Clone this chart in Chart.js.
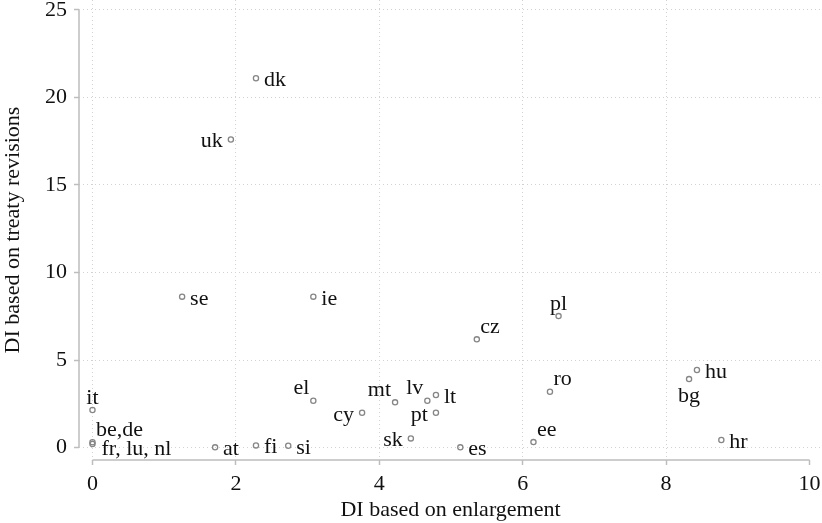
<!DOCTYPE html>
<html>
<head>
<meta charset="utf-8">
<script src="https://cdn.jsdelivr.net/npm/chart.js@4/dist/chart.umd.min.js"></script>
<style>
  html, body { margin: 0; padding: 0; background: #fff; }
  #wrap { position: relative; width: 822px; height: 523px; }
</style>
</head>
<body>
<div id="wrap"><canvas id="scatter-chart"></canvas></div>
<script>
// data
var countries   = ['it', 'be,de', 'fr, lu, nl', 'at', 'fi', 'si', 'se', 'uk', 'dk', 'ie',
                   'el', 'cy', 'mt', 'lv', 'lt', 'pt', 'sk', 'es', 'cz', 'pl',
                   'ro', 'ee', 'bg', 'hu', 'hr'];
var enlargement = [0, 0, 0, 1.71, 2.28, 2.73, 1.25, 1.93, 2.28, 3.08,
                   3.08, 3.76, 4.22, 4.67, 4.79, 4.79, 4.44, 5.13, 5.36, 6.50,
                   6.38, 6.15, 8.32, 8.43, 8.77];
var treaty      = [2.14, 0.30, 0.20, 0.01, 0.12, 0.10, 8.62, 17.6, 21.1, 8.62,
                   2.67, 1.99, 2.58, 2.67, 3.00, 1.99, 0.52, 0.01, 6.18, 7.51,
                   3.19, 0.31, 3.91, 4.43, 0.43];
var xTicks = [0, 2, 4, 6, 8, 10];
var yTicks = [0, 5, 10, 15, 20, 25];

// where each marker label sits (clock position, as in stata)
var labelPos = [12, 1, 4, 3, 3, 3, 3, 9, 3, 3,
                11, 9, 11, 11, 3, 9, 9, 3, 1, 12,
                1, 1, 6, 3, 3];

var FONT = "'Liberation Serif', 'Times New Roman', serif";
var AXIS_GREY = '#bdbdbd';
var GRID_GREY = '#d2d2d2';

var points = [];
for (var i = 0; i < countries.length; i++) {
	points.push({x: enlargement[i], y: treaty[i]});
}

function clockOffset(pos) {
	switch (pos) {
		case 9:  return {dx: -8, dy: 8, align: 'right'};
		case 12: return {dx: 0, dy: -6.5, align: 'center'};
		case 1:  return {dx: 3.5, dy: -6.5, align: 'left'};
		case 11: return {dx: -4, dy: -6.5, align: 'right'};
		case 6:  return {dx: 0, dy: 23, align: 'center'};
		case 4:  return {dx: 9, dy: 10.5, align: 'left'};
		default: return {dx: 8, dy: 8, align: 'left'};
	}
}

var markerLabels = {
	id: 'markerLabels',
	afterDatasetsDraw: function(chart) {
		var ctx = chart.ctx;
		var meta = chart.getDatasetMeta(0);
		ctx.save();
		ctx.font = '22px ' + FONT;
		ctx.fillStyle = '#111';
		ctx.textBaseline = 'alphabetic';
		meta.data.forEach(function(pt, i) {
			var o = clockOffset(labelPos[i]);
			ctx.textAlign = o.align;
			ctx.fillText(countries[i], pt.x + o.dx, pt.y + o.dy);
		});
		ctx.restore();
	}
};

// stata style axis lines: only across the tick range
var axisLines = {
	id: 'axisLines',
	afterDraw: function(chart) {
		var ctx = chart.ctx;
		var xs = chart.scales.x, ys = chart.scales.y;
		var area = chart.chartArea;
		ctx.save();
		ctx.strokeStyle = AXIS_GREY;
		ctx.lineWidth = 1.5;
		ctx.beginPath();
		ctx.moveTo(area.left, ys.getPixelForValue(yTicks[0]));
		ctx.lineTo(area.left, ys.getPixelForValue(yTicks[yTicks.length - 1]));
		ctx.moveTo(xs.getPixelForValue(xTicks[0]), area.bottom);
		ctx.lineTo(xs.getPixelForValue(xTicks[xTicks.length - 1]), area.bottom);
		ctx.stroke();
		ctx.restore();
	}
};

var ctx = document.getElementById('scatter-chart');
new Chart(ctx, {
	type: 'scatter',
	data: {
		datasets: [{
			data: points,
			pointStyle: 'circle',
			pointRadius: 2.6,
			pointHoverRadius: 2.6,
			pointBorderWidth: 1.3,
			pointBorderColor: '#868686',
			pointBackgroundColor: 'rgba(0,0,0,0)'
		}]
	},
	options: {
		responsive: true,
		maintainAspectRatio: false,
		animation: false,
		events: [],
		layout: { padding: 0, autoPadding: false },
		plugins: {
			legend: { display: false },
			tooltip: { enabled: false }
		},
		scales: {
			x: {
				type: 'linear',
				min: -0.188,
				max: 10.174,
				afterBuildTicks: function(scale) {
					scale.ticks = xTicks.map(function(v){ return {value: v}; });
				},
				afterFit: function(scale) {
					scale.height = 63;
					scale.paddingLeft = 0; scale.paddingRight = 0;
				},
				border: { display: false, dash: [1, 3] },
				grid: {
					color: function(c) { return (c.tick && c.tick.value === 10) ? 'rgba(0,0,0,0)' : GRID_GREY; },
					lineWidth: 1,
					drawTicks: true,
					tickLength: 5,
					tickColor: AXIS_GREY,
					tickWidth: 1.5,
					tickBorderDash: []
				},
				ticks: {
					color: '#111',
					padding: 6,
					maxRotation: 0,
					font: { family: FONT, size: 22 }
				},
				title: {
					display: true,
					text: 'DI based on enlargement',
					color: '#111',
					padding: { top: 0, bottom: 0 },
					font: { family: FONT, size: 22 }
				}
			},
			y: {
				type: 'linear',
				min: -0.714,
				max: 25.571,
				afterBuildTicks: function(scale) {
					scale.ticks = yTicks.map(function(v){ return {value: v}; });
				},
				afterFit: function(scale) {
					scale.width = 79;
					scale.paddingTop = 0; scale.paddingBottom = 0;
				},
				border: { display: false, dash: [1, 3] },
				grid: {
					color: GRID_GREY,
					lineWidth: 1,
					drawTicks: true,
					tickLength: 5,
					tickColor: AXIS_GREY,
					tickWidth: 1.5,
					tickBorderDash: []
				},
				ticks: {
					color: '#111',
					padding: 7,
					font: { family: FONT, size: 22 }
				},
				title: {
					display: true,
					text: 'DI based on treaty revisions',
					color: '#111',
					padding: { top: 0, bottom: 0 },
					font: { family: FONT, size: 22 }
				}
			}
		}
	},
	plugins: [markerLabels, axisLines]
});
</script>
</body>
</html>
